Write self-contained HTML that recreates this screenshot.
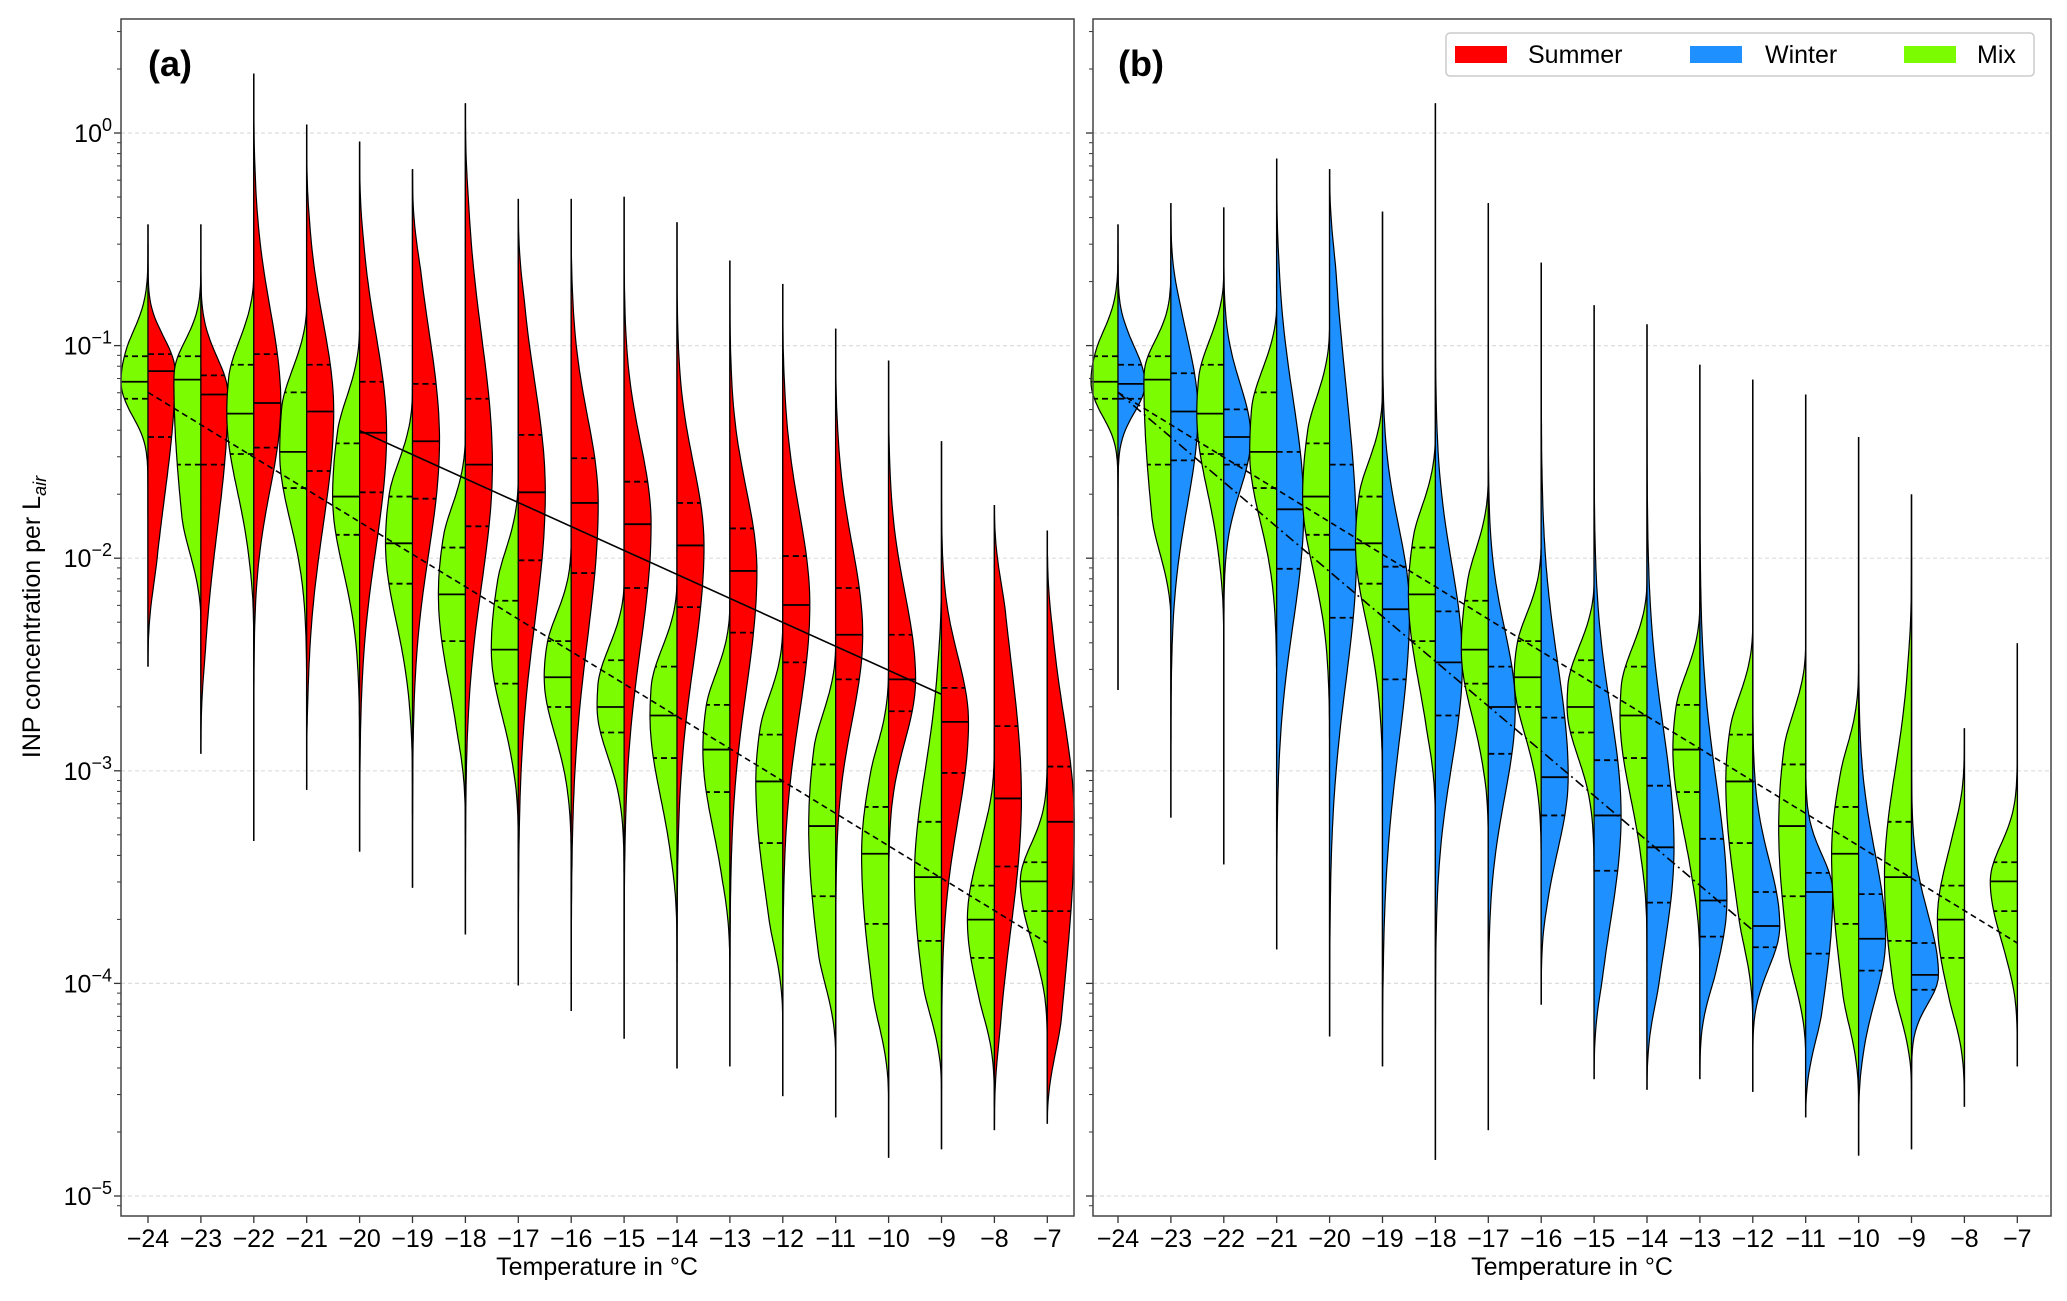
<!DOCTYPE html>
<html><head><meta charset="utf-8">
<style>
html,body{margin:0;padding:0;background:#fff;}
svg{display:block;font-family:"Liberation Sans","DejaVu Sans",sans-serif;}
</style></head>
<body>
<svg id="chart" width="2067" height="1301" viewBox="0 0 2067 1301" xmlns="http://www.w3.org/2000/svg">
<rect x="0" y="0" width="2067" height="1301" fill="#fff"/>
<g id="grid"></g>
<g id="violins"></g>
<g id="trends"></g>
<g id="axes"></g>
<text x="148" y="76" font-size="36" font-weight="bold">(a)</text>
<text x="1118" y="76" font-size="36" font-weight="bold">(b)</text>
<text transform="translate(40,617) rotate(-90)" text-anchor="middle" font-size="25">INP concentration per L<tspan font-size="18" dy="6" font-style="italic">air</tspan></text>
<text x="597" y="1275" text-anchor="middle" font-size="25">Temperature in °C</text>
<text x="1572" y="1275" text-anchor="middle" font-size="25">Temperature in °C</text>
<g>
<rect x="1446" y="33" width="588" height="43" fill="#fff" stroke="#ccc" stroke-width="1.5" rx="4"/>
<rect x="1455" y="46" width="52" height="17" fill="#ff0000"/>
<text x="1528" y="63" font-size="25">Summer</text>
<rect x="1690" y="46" width="52" height="17" fill="#1e90ff"/>
<text x="1765" y="63" font-size="25">Winter</text>
<rect x="1904" y="46" width="52" height="17" fill="#7cfc00"/>
<text x="1977" y="63" font-size="25">Mix</text>
</g>
</svg>
<script>
const temps = [-24,-23,-22,-21,-20,-19,-18,-17,-16,-15,-14,-13,-12,-11,-10,-9,-8,-7];
// log10 values
const mixMed = [-1.17,-1.16,-1.32,-1.50,-1.71,-1.93,-2.17,-2.43,-2.56,-2.70,-2.74,-2.90,-3.05,-3.26,-3.39,-3.50,-3.70,-3.52];
const mixQ3  = [-1.05,-1.05,-1.09,-1.22,-1.46,-1.71,-1.95,-2.20,-2.39,-2.48,-2.51,-2.69,-2.83,-2.97,-3.17,-3.24,-3.54,-3.43];
const mixQ1  = [-1.25,-1.56,-1.51,-1.67,-1.89,-2.12,-2.39,-2.59,-2.70,-2.82,-2.94,-3.10,-3.34,-3.59,-3.72,-3.80,-3.88,-3.66];
const mixHi  = [-0.52,-0.60,-0.65,-0.80,-0.90,-1.20,-1.40,-1.60,-1.90,-2.10,-2.10,-2.20,-2.30,-2.40,-2.50,-2.00,-2.80,-2.40];
const mixLo  = [-1.80,-2.30,-2.50,-2.80,-3.05,-3.20,-3.30,-3.45,-3.60,-3.75,-3.90,-4.00,-4.20,-4.35,-4.55,-4.50,-4.58,-4.39];
const sumMed = [-1.12,-1.23,-1.27,-1.31,-1.41,-1.45,-1.56,-1.69,-1.74,-1.84,-1.94,-2.06,-2.22,-2.36,-2.57,-2.77,-3.13,-3.24];
const sumQ3  = [-1.04,-1.14,-1.04,-1.09,-1.17,-1.18,-1.25,-1.42,-1.53,-1.64,-1.74,-1.86,-1.99,-2.14,-2.36,-2.61,-2.79,-2.98];
const sumQ1  = [-1.43,-1.56,-1.48,-1.59,-1.69,-1.72,-1.85,-2.01,-2.07,-2.14,-2.23,-2.35,-2.49,-2.57,-2.72,-3.01,-3.45,-3.66];
const sumHi  = [-0.43,-0.43,0.28,0.04,-0.04,-0.17,0.14,-0.31,-0.31,-0.30,-0.42,-0.60,-0.71,-0.92,-1.07,-1.45,-1.75,-1.87];
const sumLo  = [-2.51,-2.92,-3.33,-3.09,-3.38,-3.55,-3.77,-4.01,-4.13,-4.26,-4.40,-4.39,-4.53,-4.63,-4.82,-4.78,-4.69,-4.66];
const winMed = [-1.18,-1.31,-1.43,-1.77,-1.96,-2.24,-2.49,-2.70,-3.03,-3.21,-3.36,-3.61,-3.73,-3.57,-3.79,-3.96,null,null];
const winQ3  = [-1.09,-1.13,-1.30,-1.50,-1.56,-2.04,-2.25,-2.51,-2.75,-2.95,-3.07,-3.32,-3.57,-3.48,-3.58,-3.81,null,null];
const winQ1  = [-1.25,-1.54,-1.56,-2.05,-2.28,-2.57,-2.74,-2.92,-3.21,-3.47,-3.62,-3.78,-3.83,-3.86,-3.94,-4.03,null,null];
const winHi  = [-0.43,-0.33,-0.35,-0.12,-0.17,-0.37,0.14,-0.33,-0.61,-0.81,-0.90,-1.09,-1.16,-1.23,-1.43,-1.70,null,null];
const winLo  = [-2.62,-3.22,-3.44,-3.84,-4.25,-4.39,-4.83,-4.69,-4.10,-4.45,-4.50,-4.45,-4.51,-4.63,-4.81,-4.78,null,null];
const trendATemps = [-24,-7]; const trendAVals = [-1.22,-3.81];
const trendSumTemps = [-20,-9]; const trendSumVals = [-1.40,-2.64];
const trendWinTemps = [-24,-12]; const trendWinVals = [-1.22,-3.75];
const yTicks = [0,-1,-2,-3,-4,-5];

const NS="http://www.w3.org/2000/svg";
const panels=[{x0:121,x1:1074,t0:148,name:'a'},{x0:1093,x1:2051,t0:1118,name:'b'}];
const Y0=19,Y1=1216;
function yS(L){return 133 - L*212.6;}
function xS(p,T){return p.t0 + (T+24)*52.9;}
function mk(tag,attrs,parent){const e=document.createElementNS(NS,tag);for(const k in attrs)e.setAttribute(k,attrs[k]);parent.appendChild(e);return e;}
const grid=document.getElementById('grid'),vg=document.getElementById('violins'),tg=document.getElementById('trends'),ag=document.getElementById('axes');
const W=27;
function widthAt(L,med,q1,q3,hi,lo){
  const su=Math.max((q3-med)/0.674,0.09), sd=Math.max((med-q1)/0.674,0.09);
  const d=L-med; const s=d>0?su:sd;
  let w=W*Math.exp(-0.5*Math.pow(d/(1.3*s),2));
  const e=Math.min(L-lo,hi-L);
  const t=Math.max(0,Math.min(1,e/0.5));
  w*=t*t*(3-2*t);
  return w;
}
function half(p,i,med,q1,q3,hi,lo,color,side,name){
  if(med===null)return;
  const cx=xS(p,temps[i]);
  let pts=[];const n=100;
  for(let k=0;k<=n;k++){const L=hi-(hi-lo)*k/n;pts.push([cx+side*widthAt(L,med,q1,q3,hi,lo),yS(L)]);}
  let d='M'+cx+','+yS(hi)+' '+pts.map(q=>'L'+q[0].toFixed(1)+','+q[1].toFixed(1)).join(' ')+' L'+cx+','+yS(lo)+'Z';
  const path=mk('path',{d:d,fill:color,stroke:'#000','stroke-width':1.2},vg);
  
  
  [[q1,'6,4'],[med,null],[q3,'6,4']].forEach(([v,da])=>{
    const w=widthAt(v,med,q1,q3,hi,lo);
    const ln=mk('line',{x1:cx,x2:cx+side*w,y1:yS(v),y2:yS(v),stroke:'#000','stroke-width':1.8},vg);
    if(da)ln.setAttribute('stroke-dasharray',da);
    
    
  });
}
panels.forEach((p,pi)=>{
  yTicks.forEach(L=>{
    const g=mk('line',{x1:p.x0,x2:p.x1,y1:yS(L),y2:yS(L),stroke:'#ddd','stroke-width':1.2,'stroke-dasharray':'4,3'},grid);
    
    
  });
  temps.forEach((T,i)=>{
    const cx=xS(p,T);
    const other = pi===0?[sumHi[i],sumLo[i]]:[winHi[i],winLo[i]];
    let hi=mixHi[i],lo=mixLo[i];
    if(other[0]!==null){hi=Math.max(hi,other[0]);lo=Math.min(lo,other[1]);}
    const wl=mk('line',{x1:cx,x2:cx,y1:yS(hi),y2:yS(lo),stroke:'#000','stroke-width':1.5},vg);
    
    
    half(p,i,mixMed[i],mixQ1[i],mixQ3[i],mixHi[i],mixLo[i],'#7cfc00',-1,'mix-'+T);
    if(pi===0) half(p,i,sumMed[i],sumQ1[i],sumQ3[i],sumHi[i],sumLo[i],'#ff0000',1,'summer-'+T);
    else half(p,i,winMed[i],winQ1[i],winQ3[i],winHi[i],winLo[i],'#1e90ff',1,'winter-'+T);
    const tk=mk('line',{x1:cx,x2:cx,y1:Y1,y2:Y1+7,stroke:'#333','stroke-width':1.3},ag);
    
    
    const tx=mk('text',{x:cx,y:Y1+31,'text-anchor':'middle','font-size':25},ag);
    tx.textContent=(T<0?'\u2212':'')+Math.abs(T);
    
    
  });
  const tl=mk('line',{x1:xS(p,trendATemps[0]),y1:yS(trendAVals[0]),x2:xS(p,trendATemps[1]),y2:yS(trendAVals[1]),stroke:'#000','stroke-width':1.6,'stroke-dasharray':'6,4'},tg);
  
  
  if(pi===0){
    const s=mk('line',{x1:xS(p,trendSumTemps[0]),y1:yS(trendSumVals[0]),x2:xS(p,trendSumTemps[1]),y2:yS(trendSumVals[1]),stroke:'#000','stroke-width':1.6},tg);
    
    
  } else {
    const w=mk('line',{x1:xS(p,trendWinTemps[0]),y1:yS(trendWinVals[0]),x2:xS(p,trendWinTemps[1]),y2:yS(trendWinVals[1]),stroke:'#000','stroke-width':1.6,'stroke-dasharray':'10,4,2,4'},tg);
    
    
  }
  for(let dec=0;dec>=-6;dec--){
    for(let m=1;m<=9;m++){
      const L=dec+Math.log10(m); const y=yS(L);
      if(y<Y0||y>Y1)continue;
      const t=mk('line',{x1:p.x0-(m===1?7:4),x2:p.x0,y1:y,y2:y,stroke:'#333','stroke-width':m===1?1.3:1},ag);
      
      
    }
  }
  const fr=mk('rect',{x:p.x0,y:Y0,width:p.x1-p.x0,height:Y1-Y0,fill:'none',stroke:'#444','stroke-width':1.5},ag);
  
  
});
yTicks.forEach(L=>{
  const t=mk('text',{x:112,y:yS(L)+9,'text-anchor':'end','font-size':25},ag);
  
  
  t.textContent='10';
  const s=mk('tspan',{dy:-11,'font-size':18},t);
  s.textContent=L===0?'0':'\u2212'+Math.abs(L);
});
</script>
</body></html>
